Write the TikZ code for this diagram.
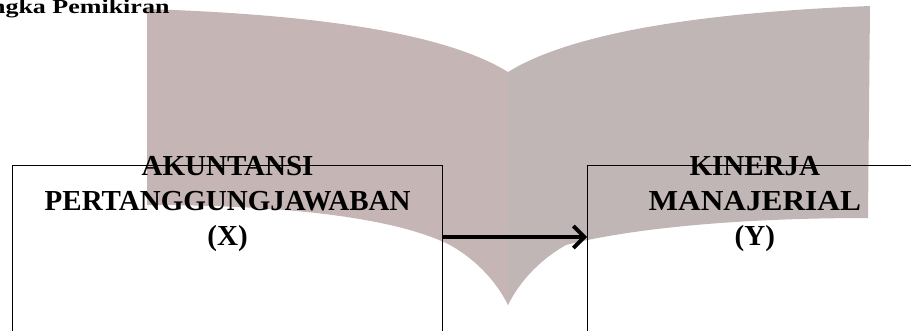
\documentclass[tikz,border=0pt]{standalone}
\usepackage{fontspec}
\setmainfont{Liberation Serif}
\usetikzlibrary{positioning, arrows.meta}
\definecolor{pageleft}{RGB}{197,181,181}
\definecolor{pageright}{RGB}{193,182,182}
\tikzstyle{varbox} = [rectangle, draw=black, line width=1.2pt, minimum height=200pt, inner sep=0pt]
\tikzstyle{vartext} = [align=center, inner sep=0pt, font=\fontsize{29}{35}\selectfont\bfseries]
\tikzstyle{arrow} = [line width=4pt, -{Straight Barb[length=11pt,width=22pt]}]

\begin{document}
\begin{tikzpicture}[x=1pt, y=-1pt]
\useasboundingbox (0,0) rectangle (911,330);

\fill[pageleft] (147,9) .. controls (300,14) and (440,30) .. (508,72) -- (508,305)
  .. controls (498,285) and (480,262) .. (450,245)
  .. controls (400,220) and (300,205) .. (147,205) -- cycle;
\fill[pageright] (508,72) .. controls (576,30) and (716,12) .. (870,6) -- (868,218)
  .. controls (716,218) and (616,232) .. (566,245)
  .. controls (536,262) and (518,285) .. (508,305) -- cycle;

\node (judul) [anchor=base east, font=\fontsize{20}{24}\selectfont\bfseries] at (173,13.5) {\scalebox{1.3}[1]{ngka Pemikiran}};

\node (boxX) [varbox, minimum width=430pt, anchor=north west] at (12,165) {};
\node (boxY) [varbox, minimum width=334pt, right=144pt of boxX] {};

\node (txtX) [vartext, anchor=north] at ([yshift=9pt]boxX.north) {AKUNTANSI\\PERTANGGUNGJAWABAN\\(X)};
\node (txtY) [vartext, anchor=north] at ([yshift=9pt]boxY.north) {KINERJA\\\scalebox{1.08}[1]{MANAJERIAL}\\(Y)};

\draw [arrow] ([yshift=-72pt]boxX.north east) -- ([yshift=-72pt]boxY.north west);

\end{tikzpicture}
\end{document}
